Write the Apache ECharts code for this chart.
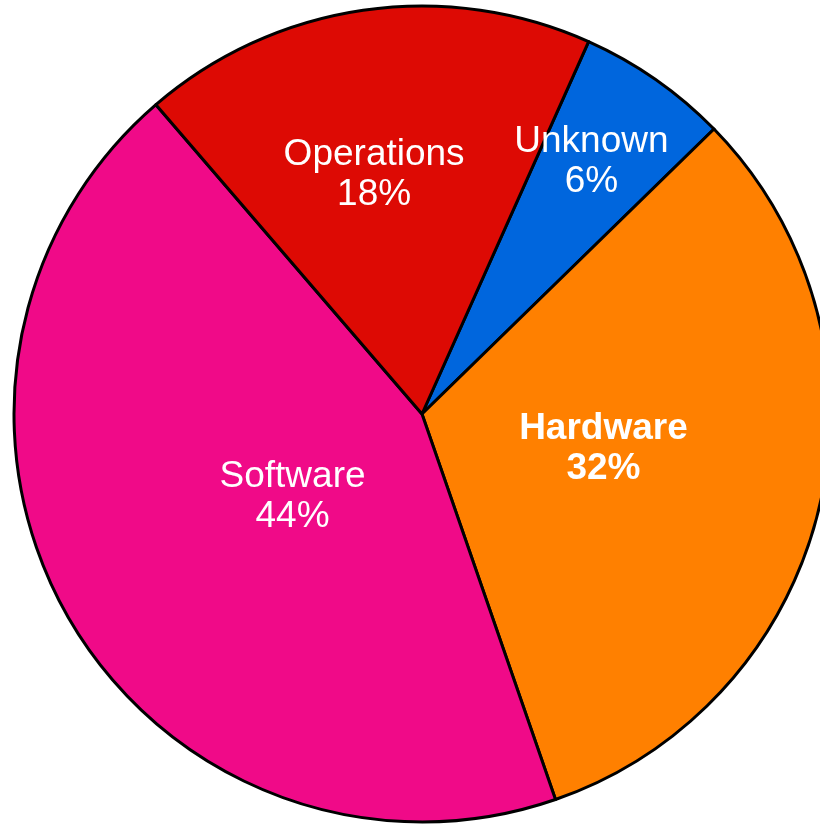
<!DOCTYPE html>
<html>
<head>
<meta charset="utf-8">
<title>Share by category</title>
<script src="https://cdn.jsdelivr.net/npm/echarts@6/dist/echarts.min.js"></script>
<style>
  html, body { margin: 0; padding: 0; background: #ffffff; }
  #chart { width: 820px; height: 824px; }
</style>
</head>
<body>
<div id="chart"></div>
<script>
// Categories, clockwise from the top-right slice
const categories = ['Unknown', 'Hardware', 'Software', 'Operations'];
const shares = [6, 32, 44, 18];

// Slice colours, one per category
const sliceColors = ['#0066dd', '#ff8000', '#f00a88', '#dd0a04'];
// Categories whose label is set in bold
const boldLabels = ['Hardware'];
// Label nudges away from the default mid-radius point, per category
const labelNudge = {
  Unknown: [51, -82],
  Hardware: [-20, -13],
  Software: [50, -20],
  Operations: [-18, -34]
};

const chart = echarts.init(document.getElementById('chart'), null, { renderer: 'canvas' });

const pieData = categories.map((name, i) => ({
  name: name,
  value: shares[i],
  itemStyle: { color: sliceColors[i] },
  label: { fontWeight: boldLabels.includes(name) ? 'bold' : 'normal' }
}));

chart.setOption({
  backgroundColor: '#ffffff',
  animation: false,
  series: [{
    type: 'pie',
    center: [422, 414],
    radius: [0, 408],
    startAngle: 65.9,
    clockwise: true,
    avoidLabelOverlap: false,
    data: pieData,
    itemStyle: { borderColor: '#000000', borderWidth: 3 },
    label: {
      show: true,
      position: 'inside',
      color: '#ffffff',
      fontFamily: '"Liberation Sans", Arial, sans-serif',
      fontSize: 37,
      lineHeight: 40,
      align: 'center',
      formatter: p => p.name + '\n' + Math.round(p.percent) + '%'
    },
    labelLine: { show: false },
    labelLayout: params => {
      const n = labelNudge[categories[params.dataIndex]] || [0, 0];
      return { dx: n[0], dy: n[1] };
    },
    emphasis: { disabled: true }
  }]
});
</script>
</body>
</html>
